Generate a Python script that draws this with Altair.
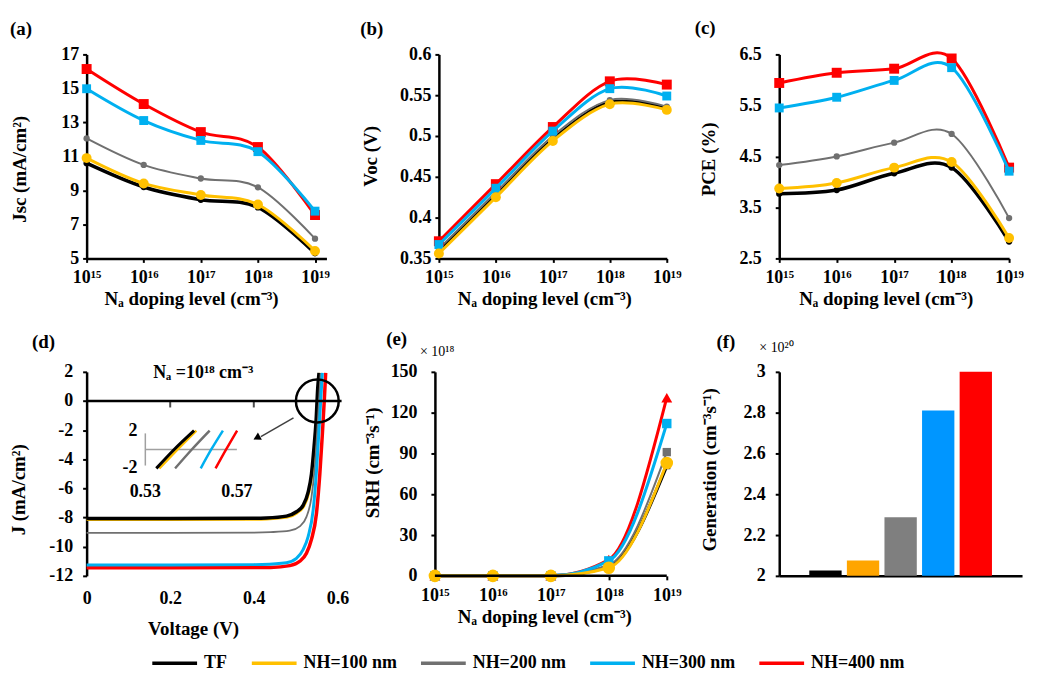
import altair as alt
import pandas as pd

FONT = "Liberation Serif"

# ---------------- data ----------------
SERIES = ["TF", "NH=100 nm", "NH=200 nm", "NH=300 nm", "NH=400 nm"]
LINE_COLORS = ["#000000", "#FFC000", "#707070", "#00B0F0", "#FF0000"]
BAR_COLORS = ["#000000", "#FFA500", "#7F7F7F", "#0096FF", "#FF0000"]

EXPONENTS = [15, 16, 17, 18, 19]
EXP_LABELS = ["10¹⁵", "10¹⁶", "10¹⁷", "10¹⁸", "10¹⁹"]
X_DOPING_TITLE = "Nₐ doping level (cm⁻³)"
PANEL_LABELS = ["(a)", "(b)", "(c)", "(d)", "(e)", "(f)"]

JSC = {
    "TF":        [10.60, 9.20, 8.45, 8.00, 5.30],
    "NH=100 nm": [10.90, 9.41, 8.73, 8.17, 5.44],
    "NH=200 nm": [12.06, 10.50, 9.70, 9.18, 6.16],
    "NH=300 nm": [14.98, 13.11, 11.94, 11.28, 7.78],
    "NH=400 nm": [16.14, 14.08, 12.43, 11.55, 7.55],
}
VOC = {
    "TF":        [0.358, 0.427, 0.496, 0.541, 0.534],
    "NH=100 nm": [0.356, 0.425, 0.494, 0.539, 0.532],
    "NH=200 nm": [0.362, 0.431, 0.500, 0.544, 0.536],
    "NH=300 nm": [0.367, 0.436, 0.506, 0.558, 0.549],
    "NH=400 nm": [0.371, 0.441, 0.511, 0.567, 0.563],
}
PCE = {
    "TF":        [3.77, 3.84, 4.17, 4.28, 2.83],
    "NH=100 nm": [3.87, 3.98, 4.28, 4.39, 2.90],
    "NH=200 nm": [4.33, 4.50, 4.77, 4.94, 3.29],
    "NH=300 nm": [5.45, 5.66, 5.99, 6.24, 4.21],
    "NH=400 nm": [5.94, 6.14, 6.22, 6.42, 4.28],
}
SRH = {
    "TF":        [0, 0, 0, 7, 81],
    "NH=100 nm": [0, 0, 0, 6, 83],
    "NH=200 nm": [0, 0, 0, 8, 91],
    "NH=300 nm": [0, 0, 0, 11, 112],
    "NH=400 nm": [0, 0, 0, 12, 131],
}
GENERATION = [2.026, 2.075, 2.287, 2.81, 3.0]

JV_V = {
    "TF":        [0, 0.2, 0.4, 0.43, 0.478, 0.502, 0.518, 0.530, 0.538, 0.544, 0.549, 0.553, 0.556],
    "NH=100 nm": [0, 0.2, 0.4, 0.43, 0.480, 0.504, 0.520, 0.532, 0.540, 0.546, 0.551, 0.555, 0.558],
    "NH=200 nm": [0, 0.2, 0.4, 0.44, 0.486, 0.510, 0.526, 0.538, 0.546, 0.552, 0.557, 0.560],
    "NH=300 nm": [0, 0.2, 0.4, 0.42, 0.478, 0.502, 0.518, 0.530, 0.542, 0.550, 0.556, 0.561, 0.564],
    "NH=400 nm": [0, 0.2, 0.4, 0.44, 0.486, 0.510, 0.526, 0.538, 0.550, 0.558, 0.564, 0.569, 0.572],
}
JV_J = {
    "TF":        [-8.07, -8.07, -8.05, -8.03, -7.9, -7.6, -7.16, -6.25, -5.0, -3.2, -1.36, 0.9, 1.93],
    "NH=100 nm": [-8.15, -8.15, -8.13, -8.11, -7.98, -7.68, -7.22, -6.3, -5.0, -3.2, -1.36, 0.9, 1.93],
    "NH=200 nm": [-9.05, -9.05, -9.03, -9.0, -8.9, -8.6, -7.95, -6.6, -4.5, -2.0, 0.45, 1.9],
    "NH=300 nm": [-11.25, -11.25, -11.23, -11.22, -11.1, -10.8, -10.2, -9.3, -7.5, -4.8, -2.0, 0.45, 1.93],
    "NH=400 nm": [-11.45, -11.45, -11.43, -11.42, -11.3, -11.0, -10.45, -9.5, -7.7, -5.0, -2.3, 0.23, 1.93],
}
INSET_V = {
    "TF":        [0.5348, 0.5426, 0.5513],
    "NH=100 nm": [0.5361, 0.5441, 0.5523],
    "NH=200 nm": [0.5430, 0.5503, 0.5581],
    "NH=300 nm": [0.5542, 0.5588, 0.5639],
    "NH=400 nm": [0.5607, 0.5653, 0.5701],
}
INSET_J = [-2, 0, 2]
INSET_X_LABELS = [0.53, 0.57]
INSET_Y_LABELS = [2, -2]

JSC_TICKS = [5, 7, 9, 11, 13, 15, 17]
VOC_TICKS = [0.35, 0.4, 0.45, 0.5, 0.55, 0.6]
PCE_TICKS = [2.5, 3.5, 4.5, 5.5, 6.5]
JV_V_TICKS = [0, 0.2, 0.4, 0.6]
JV_J_TICKS = [-12, -10, -8, -6, -4, -2, 0, 2]
SRH_TICKS = [0, 30, 60, 90, 120, 150]
GEN_TICKS = [2, 2.2, 2.4, 2.6, 2.8, 3]

NA_TEXT = "Nₐ =10¹⁸ cm⁻³"
SRH_SCALE_TEXT = "× 10¹⁸"
GEN_SCALE_TEXT = "× 10²⁰"

# annotation points in the J-V panel (data coordinates)
ZERO_LINE = {"v": [0.0], "v2": [0.61], "j": [0.0]}
ZERO_TICKS = {"v": [0.2, 0.4], "j": [0.0, 0.0]}
ZOOM_CIRCLE = {"v": [0.552], "j": [0.0]}
ARROW = {"v": [0.495], "j": [-1.16], "v2": [0.417], "j2": [-2.45]}
ARROW_HEAD = {"v": [0.407], "j": [-2.53]}
NA_POS = {"v": [0.279], "j": [1.95], "t": [NA_TEXT]}

# ---------------- helpers ----------------
ONE = pd.DataFrame({"k": [0]})

COLOR = alt.Color(
    "series:N",
    scale=alt.Scale(domain=SERIES, range=LINE_COLORS),
    legend=alt.Legend(
        orient="none", legendX=64, legendY=587, direction="horizontal",
        symbolType="stroke", symbolSize=2025, symbolStrokeWidth=3.5,
        labelFont=FONT, labelFontSize=18, labelFontWeight="bold", labelColor="black",
        labelOffset=5, columnPadding=17, title=None, padding=0,
    ),
)

EXP_EXPR = "[" + ",".join("'%s'" % t for t in EXP_LABELS) + "][round(datum.value) - %d]" % EXPONENTS[0]

LINE_W = {"TF": 3.5, "NH=100 nm": 3, "NH=200 nm": 2, "NH=300 nm": 3, "NH=400 nm": 3}
ORDER = ["TF", "NH=200 nm", "NH=400 nm", "NH=300 nm", "NH=100 nm"]
MARK_ABC = {
    "TF": ("circle", 40), "NH=100 nm": ("circle", 100), "NH=200 nm": ("circle", 40),
    "NH=300 nm": ("square", 80), "NH=400 nm": ("square", 100),
}
MARK_E = {
    "TF": ("square", 50), "NH=100 nm": ("circle", 160), "NH=200 nm": ("square", 70),
    "NH=300 nm": ("square", 90), "NH=400 nm": ("triangle-up", 120),
}


def long_frame(table):
    rows = [{"exp": e, "val": v, "series": s}
            for s in SERIES for e, v in zip(EXPONENTS, table[s])]
    return pd.DataFrame(rows)


def label_layer(text, x, y):
    return alt.Chart(ONE).mark_text(
        text=text, align="left", baseline="top", font=FONT, fontSize=19,
        fontWeight="bold", color="black").encode(x=alt.value(x), y=alt.value(y))


def anchor_layer(x, y1, y2):
    return alt.Chart(ONE).mark_rule(opacity=0).encode(
        x=alt.value(x), y=alt.value(y1), y2=alt.value(y2))


def doping_x(xmax, tx, ty, label_pad=6, domain=True):
    return alt.X("exp:Q", scale=alt.Scale(domain=[EXPONENTS[0], xmax], nice=False, zero=False),
                 axis=alt.Axis(values=EXPONENTS, labelExpr=EXP_EXPR, title=X_DOPING_TITLE,
                               titleX=tx, titleY=ty, titleBaseline="middle",
                               labelPadding=label_pad, domain=domain))


def value_y(domain, ticks, title, tx, ty, pad, fmt="~g"):
    return alt.Y("val:Q", scale=alt.Scale(domain=domain, nice=False, zero=False),
                 axis=alt.Axis(values=ticks, format=fmt, title=title, titleX=tx, titleY=ty,
                               titleBaseline="middle", labelPadding=pad))


def series_layers(df, x, y, marks, interp):
    out = []
    for s in ORDER:
        base = alt.Chart(df).transform_filter(alt.datum.series == s)
        out.append(base.mark_line(interpolate=interp, strokeWidth=LINE_W[s]).encode(
            x=x, y=y, color=COLOR))
        shape, size = marks[s]
        out.append(base.mark_point(shape=shape, size=size, filled=True, opacity=1).encode(
            x=x, y=y, color=COLOR))
    return out


# ---------------- (a) ----------------
xa = doping_x(19.2, 105, 40)
ya = value_y([5, 17], JSC_TICKS, "Jsc (mA/cm²)", -67, 115, 4, "d")
panel_a = alt.layer(
    anchor_layer(-79, -40, 265),
    label_layer(PANEL_LABELS[0], -77, -35),
    *series_layers(long_frame(JSC), xa, ya, MARK_ABC, "cardinal"),
).properties(width=241, height=205)

# ---------------- (b) ----------------
xb = doping_x(19, 106, 40)
yb = value_y([0.35, 0.6], VOC_TICKS, "Voc (V)", -69, 102, 4)
panel_b = alt.layer(
    label_layer(PANEL_LABELS[1], -79, -35),
    *series_layers(long_frame(VOC), xb, yb, MARK_ABC, "cardinal"),
).properties(width=229, height=205)

# ---------------- (c) ----------------
xc = doping_x(19, 107, 40)
yc = value_y([2.5, 6.5], PCE_TICKS, "PCE (%)", -71, 105, 14, ".1f")
panel_c = alt.layer(
    label_layer(PANEL_LABELS[2], -85, -36),
    *series_layers(long_frame(PCE), xc, yc, MARK_ABC, "cardinal"),
).properties(width=231, height=205)

# ---------------- (d) ----------------
jv_rows = [{"v": v, "j": j, "series": s}
           for s in SERIES for v, j in zip(JV_V[s], JV_J[s])]
jv_df = pd.DataFrame(jv_rows)
jv_xscale = alt.Scale(domain=[0, 0.6], nice=False, zero=False)
jv_yscale = alt.Scale(domain=[-12, 2], nice=False, zero=False)
xd = alt.X("v:Q", scale=jv_xscale,
           axis=alt.Axis(values=JV_V_TICKS, format="~g", domain=False, ticks=False,
                         labelPadding=14, title="Voltage (V)", titleX=107, titleY=53,
                         titleBaseline="middle"))
yd = alt.Y("j:Q", scale=jv_yscale,
           axis=alt.Axis(values=JV_J_TICKS, labelExpr="'' + datum.value", title="J (mA/cm²)",
                         titleX=-68, titleY=118, titleBaseline="middle", labelPadding=10))

JV_W = {"TF": 3.5, "NH=100 nm": 2.5, "NH=200 nm": 1.8, "NH=300 nm": 3, "NH=400 nm": 3.5}
JV_ORDER = ["NH=100 nm", "TF", "NH=200 nm", "NH=400 nm", "NH=300 nm"]
jv_lines = [
    alt.Chart(jv_df).transform_filter(alt.datum.series == s).mark_line(
        interpolate="monotone", strokeWidth=JV_W[s]).encode(x=xd, y=yd, color=COLOR)
    for s in JV_ORDER
]
main_d = alt.layer(
    anchor_layer(-79, -50, 0),
    label_layer(PANEL_LABELS[3], -55, -39),
    *jv_lines,
    alt.Chart(pd.DataFrame(ZERO_LINE)).mark_rule(color="black", strokeWidth=2.5).encode(
        x=xd, x2="v2:Q", y=yd),
    alt.Chart(pd.DataFrame(ZERO_TICKS)).mark_tick(
        orient="vertical", size=7, thickness=2, color="black", yOffset=3).encode(
        x=xd, y=yd),
    alt.Chart(pd.DataFrame(ZOOM_CIRCLE)).mark_point(
        shape="circle", size=1849, filled=False, color="black", strokeWidth=2.5, opacity=1).encode(
        x=xd, y=yd),
    alt.Chart(pd.DataFrame(ARROW)).mark_rule(color="#404040", strokeWidth=1.5).encode(
        x=xd, y=yd, x2="v2:Q", y2="j2:Q"),
    alt.Chart(pd.DataFrame(ARROW_HEAD)).mark_point(
        shape="triangle-up", size=70, angle=242, filled=True, color="black", opacity=1).encode(
        x=xd, y=yd),
    alt.Chart(pd.DataFrame(NA_POS)).mark_text(
        font=FONT, fontSize=18, fontWeight="bold", color="black", baseline="middle").encode(
        x=xd, y=yd, text="t:N"),
)

inset_rows = [{"v": v, "j": j, "series": s}
              for s in SERIES for v, j in zip(INSET_V[s], INSET_J)]
inset_df = pd.DataFrame(inset_rows)
ix = alt.X("v:Q", scale=alt.Scale(domain=[0.53, 0.57], range=[59, 151], nice=False, zero=False),
           axis=None)
iy = alt.Y("j:Q", scale=alt.Scale(domain=[-2, 2], range=[97, 59], nice=False, zero=False),
           axis=None)
inset_axes_v = pd.DataFrame({"v": [INSET_X_LABELS[0]], "j": [-1.7], "j2": [1.7]})
inset_axes_h = pd.DataFrame({"v": [INSET_X_LABELS[0]], "v2": [INSET_X_LABELS[1]], "j": [0]})
inset_ylab = pd.DataFrame({"v": [INSET_X_LABELS[0]] * 2, "j": INSET_Y_LABELS,
                           "t": [str(t) for t in INSET_Y_LABELS]})
inset_xlab = pd.DataFrame({"v": INSET_X_LABELS, "j": [-2, -2],
                           "t": [str(t) for t in INSET_X_LABELS]})
inset_lines = [
    alt.Chart(inset_df).transform_filter(alt.datum.series == s).mark_line(
        interpolate="monotone", strokeWidth=3 if s == "TF" else 2.5).encode(
        x=ix, y=iy, color=COLOR)
    for s in JV_ORDER
]
inset_d = alt.layer(
    alt.Chart(inset_axes_v).mark_rule(color="#A0A0A0", strokeWidth=1.5).encode(x=ix, y=iy, y2="j2:Q"),
    alt.Chart(inset_axes_h).mark_rule(color="#A0A0A0", strokeWidth=1.5).encode(x=ix, x2="v2:Q", y=iy),
    *inset_lines,
    alt.Chart(inset_ylab).mark_text(
        font=FONT, fontSize=18, fontWeight="bold", color="black", align="right", dx=-8,
        baseline="middle").encode(x=ix, y=iy, text="t:N"),
    alt.Chart(inset_xlab).mark_text(
        font=FONT, fontSize=18, fontWeight="bold", color="black", align="center", dy=24,
        baseline="middle").encode(x=ix, y=iy, text="t:N"),
)
panel_d = alt.layer(main_d, inset_d).resolve_scale(
    x="independent", y="independent").properties(width=252, height=205)

# ---------------- (e) ----------------
E_XMAX = 15 + 4 * 248 / 233
xe = doping_x(E_XMAX, 110, 41, label_pad=7, domain=False)
ye = value_y([0, 150], SRH_TICKS, "SRH (cm⁻³s⁻¹)", -63, 91, 14, "d")
e_base = pd.DataFrame({"exp": [EXPONENTS[0]], "exp2": [EXPONENTS[-1]], "val": [0]})
panel_e = alt.layer(
    label_layer(PANEL_LABELS[4], -49, -42),
    alt.Chart(ONE).mark_text(text=SRH_SCALE_TEXT, align="left", baseline="middle", font=FONT,
                             fontSize=14, color="black").encode(x=alt.value(-15), y=alt.value(-20)),
    *series_layers(long_frame(SRH), xe, ye, MARK_E, "monotone"),
    alt.Chart(e_base).mark_rule(color="black", strokeWidth=2.5).encode(
        x=xe, x2="exp2:Q", y=ye),
).properties(width=248, height=205)

# ---------------- (f) ----------------
gen_df = pd.DataFrame({"series": SERIES, "gen": GENERATION})
panel_f = alt.layer(
    label_layer(PANEL_LABELS[5], -63, -39),
    alt.Chart(ONE).mark_text(text=GEN_SCALE_TEXT, align="left", baseline="middle", font=FONT,
                             fontSize=14, color="black").encode(x=alt.value(-20), y=alt.value(-24)),
    alt.Chart(gen_df).mark_bar().encode(
        x=alt.X("series:N", sort=SERIES,
                scale=alt.Scale(domain=SERIES, paddingInner=0.14, paddingOuter=0.8),
                axis=alt.Axis(labels=False, ticks=False, title=None)),
        y=alt.Y("gen:Q", scale=alt.Scale(domain=[2, 3], nice=False, zero=False),
                axis=alt.Axis(values=GEN_TICKS, format="~g", title="Generation (cm⁻³s⁻¹)",
                              titleX=-70, titleY=98, titleBaseline="middle", labelPadding=10)),
        y2=alt.datum(2),
        fill=alt.Fill("series:N", scale=alt.Scale(domain=SERIES, range=BAR_COLORS), legend=None),
    ),
).properties(width=244, height=205)

row1 = alt.hconcat(panel_a, panel_b, panel_c, spacing=113, bounds="flush")
row2 = alt.hconcat(panel_d, panel_e, panel_f, spacing=98, bounds="flush")

chart = alt.vconcat(row1, row2, spacing=4).properties(
    padding={"left": 0, "top": 5, "right": 5, "bottom": 0}
).configure_view(stroke=None).configure_axis(
    domainColor="black", domainWidth=2.5, tickColor="black", tickWidth=2, tickSize=4,
    labelFont=FONT, labelFontSize=18, labelFontWeight="bold", labelColor="black",
    titleFont=FONT, titleFontSize=19, titleFontWeight="bold", titleColor="black",
    grid=False, labelFlush=False, labelOverlap=False,
)

chart.save("out.html", embed_options={"renderer": "svg", "actions": False})
